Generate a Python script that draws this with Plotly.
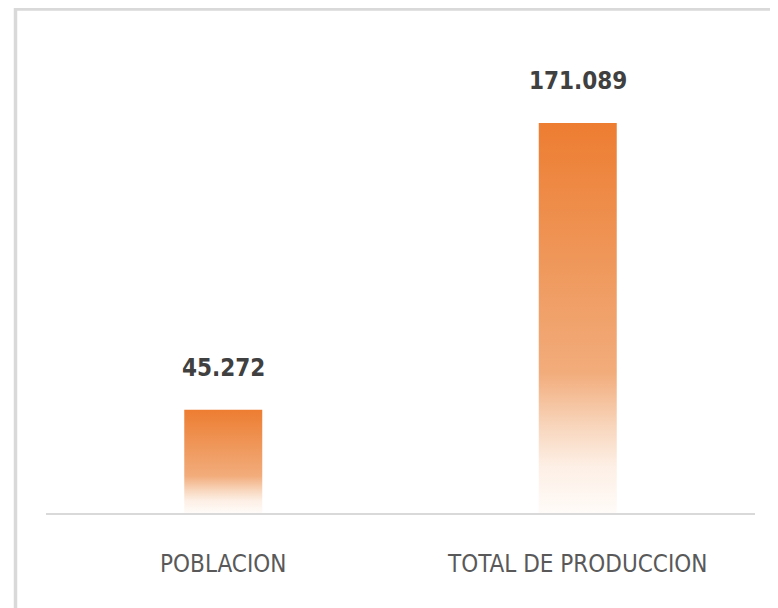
import plotly.graph_objects as go

# data
categories = ["POBLACION", "TOTAL DE PRODUCCION"]
values = [45.272, 171.089]
value_labels = ["45.272", "171.089"]

ORANGE = "#ED7D31"
LABEL = "#404040"
TICK = "#595959"
BORDER = "#D9D9D9"
FONT = "DejaVu Sans Condensed, Liberation Sans Narrow, sans-serif"

HALF_W = 0.11  # half bar width in category units
# vertical gradient, 0 = bottom of bar, 1 = top
GRADIENT = [
    [0.0, "#FFFBF8"],
    [0.12, "#FDEFE5"],
    [0.22, "#F8D6BD"],
    [0.36, "#F2AC7B"],
    [0.65, "#EF975A"],
    [1.0, ORANGE],
]

fig = go.Figure()

for i, (cat, v) in enumerate(zip(categories, values)):
    fig.add_trace(go.Scatter(
        x=[i - HALF_W, i - HALF_W, i + HALF_W, i + HALF_W, i - HALF_W],
        y=[0, v, v, 0, 0],
        mode="lines",
        line=dict(width=0),
        fill="toself",
        fillgradient=dict(type="vertical", colorscale=GRADIENT, start=0, stop=v),
        hoverinfo="skip",
        name=cat,
        showlegend=False,
    ))
    fig.add_annotation(
        x=i, y=v, text=f"<b>{value_labels[i]}</b>",
        showarrow=False, yanchor="bottom", yshift=26,
        font=dict(family=FONT, size=24, color=LABEL),
    )

# page body has an 8px margin, so the figure sits at (8, 8)
# plot area in figure px: x 38..747, y 12..505
fig.add_shape(
    type="rect", xref="paper", yref="paper",
    x0=(7.5 - 38) / 709, x1=1.2, y0=-0.5, y1=1 + (12 - 1) / 493,
    line=dict(color=BORDER, width=3.5), layer="below",
)

fig.update_layout(
    width=770, height=600,
    margin=dict(l=38, r=23, t=12, b=95),
    paper_bgcolor="white", plot_bgcolor="white",
    showlegend=False,
    xaxis=dict(
        range=[-0.5, 1.5],
        tickvals=list(range(len(categories))), ticktext=categories,
        showgrid=False, zeroline=False,
        showline=True, linecolor=BORDER, linewidth=2,
        ticks="", ticklabelstandoff=28,
        tickfont=dict(family=FONT, size=24, color=TICK),
        fixedrange=True,
    ),
    yaxis=dict(
        range=[0, 216.3], visible=False, showgrid=False, zeroline=False,
        fixedrange=True,
    ),
)

fig.write_html("out.html")
